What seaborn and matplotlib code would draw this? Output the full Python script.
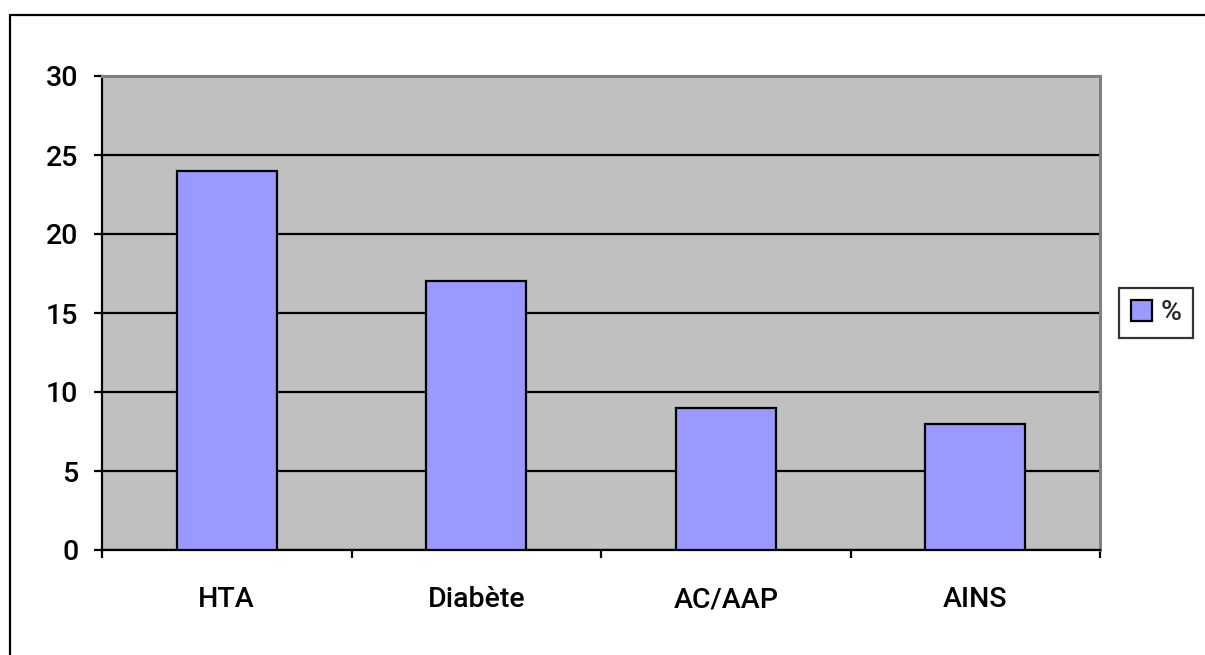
import matplotlib
matplotlib.use("Agg")
import matplotlib.pyplot as plt
from matplotlib.lines import Line2D
import seaborn as sns
import pandas as pd

categories = ["HTA", "Diabète", "AC/AAP", "AINS"]
values = [24, 17, 9, 8]
series_name = "%"
y_ticks = [0, 5, 10, 15, 20, 25, 30]

sns.set_theme(style="white")
plt.rcParams["font.family"] = ["Roboto", "DejaVu Sans"]
plt.rcParams["font.weight"] = "medium"

df = pd.DataFrame({"cat": categories, "val": values, "serie": [series_name] * len(categories)})

W, H = 1205, 655
fig = plt.figure(figsize=(W / 100, H / 100), dpi=100)
fig.patch.set_facecolor("white")
ax = fig.add_axes([102 / W, 1 - 550 / H, (1100 - 102) / W, (550 - 76) / H])
ax.set_facecolor("#C0C0C0")

sns.barplot(data=df, x="cat", y="val", hue="serie", palette=["#9999FF"], saturation=1,
            width=0.4, edgecolor="black", linewidth=1.6, ax=ax, zorder=3)

ax.set_xlim(-0.5, len(categories) - 0.5)
ax.set_ylim(0, 30)
ax.set_yticks(y_ticks)
ax.yaxis.grid(True, color="black", linewidth=1.6, zorder=1)
ax.set_axisbelow(True)
ax.set_xlabel("")
ax.set_ylabel("")

# spines: dark left/bottom axis lines, grey frame on top/right
for side in ["left", "bottom"]:
    ax.spines[side].set_color("black")
    ax.spines[side].set_linewidth(1.6)
for side in ["top", "right"]:
    ax.spines[side].set_color("#808080")
    ax.spines[side].set_linewidth(2.2)

fs = 20.5
ax.tick_params(axis="y", which="major", direction="out", length=6, width=1.6,
               color="black", pad=11, labelsize=fs, left=True)
ax.tick_params(axis="x", which="major", length=0, pad=26, labelsize=fs)
ax.set_xticks([i - 0.5 for i in range(len(categories) + 1)], minor=True)
ax.tick_params(axis="x", which="minor", direction="out", length=6, width=1.6,
               color="black", bottom=True)
for lab in ax.get_xticklabels() + ax.get_yticklabels():
    lab.set_color("black")
    lab.set_fontweight("medium")

leg = ax.legend(loc="center", bbox_to_anchor=(1156 / W, 1 - 313 / H),
                bbox_transform=fig.transFigure, frameon=True, fancybox=False,
                fontsize=fs, handlelength=0.75, handleheight=0.75, handletextpad=0.3,
                borderpad=0.4, borderaxespad=0)
leg.get_frame().set_edgecolor("black")
leg.get_frame().set_linewidth(1.6)
leg.get_frame().set_facecolor("white")
for t in leg.get_texts():
    t.set_fontweight("medium")

# outer chart border (left and top edges)
fig.add_artist(Line2D([10 / W, 10 / W], [0, 1 - 15 / H], transform=fig.transFigure,
                      color="black", linewidth=1.6))
fig.add_artist(Line2D([10 / W, 1], [1 - 15 / H, 1 - 15 / H], transform=fig.transFigure,
                      color="black", linewidth=1.6))

fig.savefig("out.png", dpi=100)
